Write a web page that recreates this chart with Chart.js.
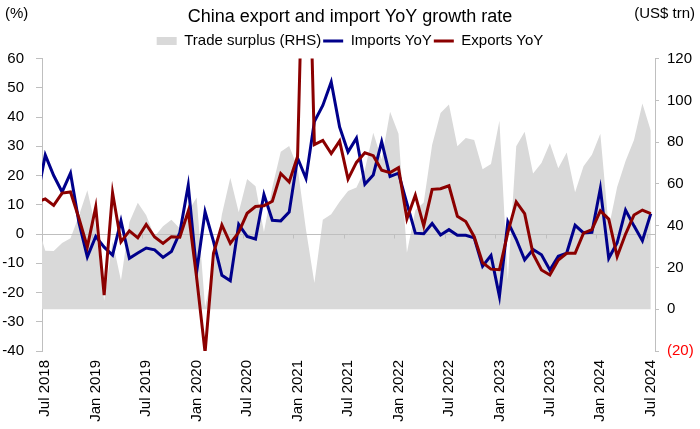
<!DOCTYPE html>
<html>
<head>
<meta charset="utf-8">
<script src="https://cdn.jsdelivr.net/npm/chart.js@4.4.1/dist/chart.umd.min.js"></script>
<style>
  body { margin: 0; background: #fff; }
</style>
</head>
<body>
<canvas id="chart" width="700" height="429"></canvas>
<script>
// months shown on the x axis (Jun 2018 sits just left of the plot edge)
const months = [
  'Jun 2018', 'Jul 2018', 'Aug 2018', 'Sep 2018', 'Oct 2018', 'Nov 2018', 'Dec 2018',
  'Jan 2019', 'Feb 2019', 'Mar 2019', 'Apr 2019', 'May 2019', 'Jun 2019', 'Jul 2019', 'Aug 2019', 'Sep 2019', 'Oct 2019', 'Nov 2019', 'Dec 2019',
  'Jan 2020', 'Feb 2020', 'Mar 2020', 'Apr 2020', 'May 2020', 'Jun 2020', 'Jul 2020', 'Aug 2020', 'Sep 2020', 'Oct 2020', 'Nov 2020', 'Dec 2020',
  'Jan 2021', 'Feb 2021', 'Mar 2021', 'Apr 2021', 'May 2021', 'Jun 2021', 'Jul 2021', 'Aug 2021', 'Sep 2021', 'Oct 2021', 'Nov 2021', 'Dec 2021',
  'Jan 2022', 'Feb 2022', 'Mar 2022', 'Apr 2022', 'May 2022', 'Jun 2022', 'Jul 2022', 'Aug 2022', 'Sep 2022', 'Oct 2022', 'Nov 2022', 'Dec 2022',
  'Jan 2023', 'Feb 2023', 'Mar 2023', 'Apr 2023', 'May 2023', 'Jun 2023', 'Jul 2023', 'Aug 2023', 'Sep 2023', 'Oct 2023', 'Nov 2023', 'Dec 2023',
  'Jan 2024', 'Feb 2024', 'Mar 2024', 'Apr 2024', 'May 2024', 'Jun 2024', 'Jul 2024'
];

const tickLabels = [
  'Jul 2018', 'Jan 2019', 'Jul 2019', 'Jan 2020', 'Jul 2020', 'Jan 2021', 'Jul 2021',
  'Jan 2022', 'Jul 2022', 'Jan 2023', 'Jul 2023', 'Jan 2024', 'Jul 2024'
];

// exports YoY, %
const exportsYoY = [
  11, 12, 9.8, 14, 14.4, 5.4, -4.4,
  9.3, -20.9, 14.1, -2.7, 1.1, -1.3, 3.3, -1, -3.2, -0.9, -1.1, 7.8,
  -15, -40.5, -6.6, 3.1, -3.2, 0.6, 7.1, 9.4, 9.7, 11.2, 20.7, 17.8,
  26.5, 140, 30.6, 32, 27.5, 31.8, 18.8, 24.5, 27.8, 26.8, 21.8, 21,
  22.7, 5.2, 13.3, 2.8, 15.3, 15.5, 16.5, 6.1, 4.3, -0.9, -9.8, -12,
  -12.2, 0.5, 11, 7, -6.8, -12.3, -14, -8.9, -6.6, -6.6, 0.3, 1.5,
  7.9, 5.1, -7.7, 0, 6.5, 8.2, 7
];

// imports YoY, %
const importsYoY = [
  12, 27, 20, 14.4, 20.8, 4, -7.8,
  -0.8, -4.5, -7.2, 4.5, -8.3, -6.5, -4.8, -5.4, -8, -6, 0.5, 16.7,
  -12.9, 7.6, -2.5, -14.1, -16, 3.3, -0.8, -1.7, 13.5, 4.7, 4.5, 7.5,
  26, 19, 38.5, 44, 52, 36.6, 28.1, 32.8, 17, 20.2, 31.6, 19.7,
  20.8, 10.5, 0.3, 0.1, 3.6, -0.3, 1.5, -0.4, -0.4, -1.3, -11, -7.3,
  -21.3, 4.2, -1.8, -8.8, -5.3, -7.1, -12.3, -7.6, -6.5, 3, 0.4, 0.6,
  15.6, -8.3, -3, 8.2, 2.8, -2.3, 7
];

// trade surplus (right axis)
const tradeSurplus = [
  41.6, 28, 27.9, 31.7, 34, 44.7, 57,
  39.2, 4.1, 32.6, 13.8, 41.7, 51, 45, 34.8, 39.7, 42.8, 38.7, 46.8,
  53.5, 1, 19.9, 45.3, 62.9, 46.4, 62.3, 58.9, 37, 58.4, 75.4, 78.2,
  68, 38, 12.5, 42.9, 45.5, 51.5, 56.6, 58.3, 66.8, 84.5, 71.7, 94.5,
  84, 27, 47.4, 51.1, 78.8, 94, 98, 78, 82, 81, 67, 69.5,
  90.3, 14, 78, 85, 65, 70, 79.5, 67.5, 75, 56, 68.5, 74,
  84, 39, 58.5, 71, 81, 98.5, 85.5
];

const FONT = '"Liberation Sans", Arial, sans-serif';
const axisGrey = '#bfbfbf';

const toPoints = (arr) => arr.map((v, i) => ({ x: i, y: v }));

// white background
const whiteBg = {
  id: 'whiteBg',
  beforeDraw(chart) {
    const { ctx } = chart;
    ctx.save();
    ctx.fillStyle = '#fff';
    ctx.fillRect(0, 0, chart.width, chart.height);
    ctx.restore();
  }
};

// horizontal axis line at 0, drawn over the area but under the lines
const zeroLine = {
  id: 'zeroLine',
  afterDatasetDraw(chart, args) {
    if (args.index !== 0) return;
    const { ctx, chartArea: a, scales: { x, y } } = chart;
    const y0 = Math.round(y.getPixelForValue(0)) + 0.5;
    ctx.save();
    ctx.strokeStyle = axisGrey;
    ctx.lineWidth = 1;
    ctx.beginPath();
    ctx.moveTo(a.left, y0);
    ctx.lineTo(a.right, y0);
    for (let i = 0.5; i < months.length; i += 6) {
      const px = Math.round(x.getPixelForValue(i)) + 0.5;
      if (px < a.left || px > a.right) continue;
      ctx.moveTo(px, y0);
      ctx.lineTo(px, y0 + 4);
    }
    ctx.stroke();
    ctx.restore();
  }
};

// unit captions in the top corners
const unitLabels = {
  id: 'unitLabels',
  afterDraw(chart) {
    const { ctx } = chart;
    ctx.save();
    ctx.font = '15px ' + FONT;
    ctx.fillStyle = '#000';
    ctx.textBaseline = 'middle';
    ctx.textAlign = 'left';
    ctx.fillText('(%)', 5, 14);
    ctx.textAlign = 'right';
    ctx.fillText('(US$ trn)', 695, 14);
    ctx.restore();
  }
};

new Chart(document.getElementById('chart'), {
  type: 'line',
  data: {
    datasets: [
      {
        label: 'Trade surplus (RHS)',
        data: toPoints(tradeSurplus),
        yAxisID: 'y1',
        fill: 'origin',
        backgroundColor: '#d9d9d9',
        borderColor: '#d9d9d9',
        borderWidth: 0,
        pointRadius: 0,
        pointStyle: 'rect',
        order: 3,
        clip: 0
      },
      {
        label: 'Imports YoY',
        data: toPoints(importsYoY),
        yAxisID: 'y',
        fill: false,
        borderColor: '#00008b',
        backgroundColor: '#00008b',
        borderWidth: 3,
        pointRadius: 0,
        pointStyle: 'line',
        order: 2,
        clip: 0
      },
      {
        label: 'Exports YoY',
        data: toPoints(exportsYoY),
        yAxisID: 'y',
        fill: false,
        borderColor: '#8b0000',
        backgroundColor: '#8b0000',
        borderWidth: 3,
        pointRadius: 0,
        pointStyle: 'line',
        order: 1,
        clip: 0
      }
    ]
  },
  options: {
    responsive: false,
    animation: false,
    layout: { padding: 0 },
    plugins: {
      title: {
        display: true,
        text: 'China export and import YoY growth rate',
        color: '#000',
        font: { family: FONT, size: 18, weight: 'normal' },
        padding: { top: 6, bottom: 4 }
      },
      legend: {
        display: true,
        position: 'top',
        labels: {
          usePointStyle: true,
          pointStyleWidth: 20,
          boxHeight: 8,
          padding: 2,
          color: '#000',
          font: { family: FONT, size: 15 },
          sort: (a, b) => a.datasetIndex - b.datasetIndex
        }
      },
      tooltip: { enabled: false }
    },
    scales: {
      x: {
        type: 'linear',
        min: 0.61,
        max: 73.5,
        grid: { display: false, drawTicks: false },
        border: { display: false },
        ticks: {
          autoSkip: false,
          minRotation: 90,
          maxRotation: 90,
          padding: 9,
          color: '#000',
          font: { family: FONT, size: 15 },
          callback: (v) => months[v] || ''
        },
        afterBuildTicks: (s) => {
          s.ticks = tickLabels.map((l) => ({ value: months.indexOf(l) }));
        },
        afterFit: (s) => { s.height = 78; }
      },
      y: {
        position: 'left',
        min: -40,
        max: 60,
        ticks: { stepSize: 10, padding: 12, color: '#000', font: { family: FONT, size: 15 } },
        grid: { drawOnChartArea: false, tickLength: 6, tickColor: axisGrey },
        border: { color: axisGrey },
        afterFit: (s) => { s.width = 42; }
      },
      y1: {
        position: 'right',
        min: -20,
        max: 120,
        ticks: {
          stepSize: 20,
          padding: 8,
          font: { family: FONT, size: 15 },
          color: (c) => (c.tick && c.tick.value < 0 ? '#ff0000' : '#000'),
          callback: (v) => (v < 0 ? '(' + (-v) + ')' : v)
        },
        grid: { drawOnChartArea: false, tickLength: 4, tickColor: axisGrey },
        border: { color: axisGrey },
        afterFit: (s) => { s.width = 45; }
      }
    }
  },
  plugins: [whiteBg, zeroLine, unitLabels]
});
</script>
</body>
</html>
